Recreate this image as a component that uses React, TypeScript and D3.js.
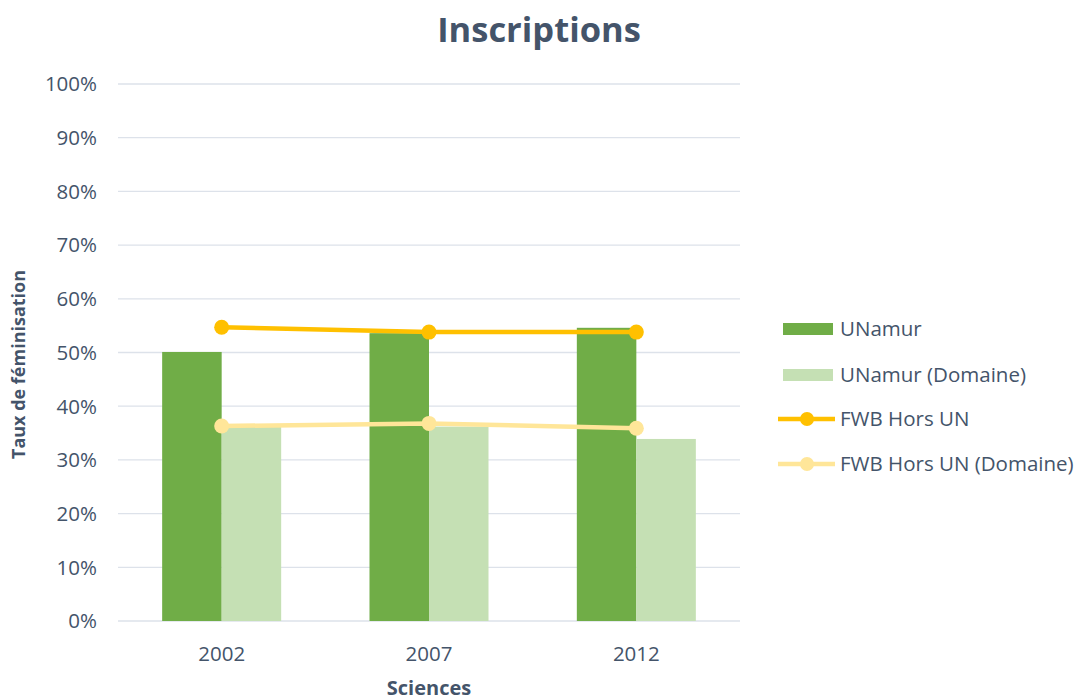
import React from 'react';
import * as d3 from 'd3';

// data
const years = ['2002', '2007', '2012'];
const unamur = [50.1, 53.6, 54.6];
const unamurDomaine = [36.2, 36.2, 33.9];
const fwb = [54.7, 53.8, 53.8];
const fwbDomaine = [36.3, 36.8, 35.9];
const yTicks = [0, 10, 20, 30, 40, 50, 60, 70, 80, 90, 100];

const textColor = '#44546A';
const font = '"Open Sans", sans-serif';

const barSeries = [
  { name: 'UNamur', values: unamur, color: '#70AD47' },
  { name: 'UNamur (Domaine)', values: unamurDomaine, color: '#C5E0B4' },
];
const lineSeries = [
  { name: 'FWB Hors UN', values: fwb, color: '#FFC000' },
  { name: 'FWB Hors UN (Domaine)', values: fwbDomaine, color: '#FFE699' },
];

export default function App() {
  const width = 1083;
  const height = 700;
  const plot = { left: 118, right: 740, top: 84, bottom: 621 };

  const x = d3.scaleBand<string>().domain(years).range([plot.left, plot.right]).paddingInner(0.426).paddingOuter(0.213);
  const xInner = d3.scaleBand<number>().domain([0, 1]).range([0, x.bandwidth()]);
  const y = d3.scaleLinear().domain([0, 100]).range([plot.bottom, plot.top]);

  const line = d3
    .line<number>()
    .x((_, i) => (x(years[i]) as number) + x.bandwidth() / 2)
    .y(d => y(d));

  const legendX = 783;
  const legendRows = [329, 375, 419, 464];

  return (
    <svg width={width} height={height} style={{ position: 'absolute', left: 0, top: 0, fontFamily: font }}>
      <rect width={width} height={height} fill="#fff" />
      <text x={539} y={42} textAnchor="middle" fontSize={34.5} fontWeight="bold" fill={textColor}>
        Inscriptions
      </text>

      {/* grid + y labels */}
      {yTicks.map(t => (
        <g key={t}>
          <line x1={plot.left} x2={plot.right} y1={y(t)} y2={y(t)} stroke="#DDE2EA" strokeWidth={1.3} />
          <text x={97} y={y(t)} dy="0.36em" textAnchor="end" fontSize={20.5} fill={textColor}>
            {t}%
          </text>
        </g>
      ))}

      {/* bars */}
      {barSeries.map((s, si) =>
        s.values.map((v, i) => (
          <rect
            key={s.name + i}
            x={(x(years[i]) as number) + (xInner(si) as number)}
            y={y(v)}
            width={xInner.bandwidth()}
            height={y(0) - y(v)}
            fill={s.color}
          />
        ))
      )}

      {/* lines */}
      {lineSeries.map(s => (
        <g key={s.name}>
          <path d={line(s.values) as string} fill="none" stroke={s.color} strokeWidth={4.5} />
          {s.values.map((v, i) => (
            <circle key={i} cx={(x(years[i]) as number) + x.bandwidth() / 2} cy={y(v)} r={7.5} fill={s.color} />
          ))}
        </g>
      ))}

      {/* x labels */}
      {years.map(yr => (
        <text key={yr} x={(x(yr) as number) + x.bandwidth() / 2} y={661} textAnchor="middle" fontSize={20.5} fill={textColor}>
          {yr}
        </text>
      ))}
      <text x={429} y={695} textAnchor="middle" fontSize={20} fontWeight="bold" fill={textColor}>
        Sciences
      </text>
      <text
        transform={`translate(25,${(plot.top + plot.bottom) / 2 + 12}) rotate(-90)`}
        textAnchor="middle"
        fontSize={18}
        fontWeight="bold"
        fill={textColor}
      >
        Taux de féminisation
      </text>

      {/* legend */}
      {barSeries.map((s, i) => (
        <g key={s.name}>
          <rect x={legendX} y={legendRows[i] - 6} width={50} height={12} fill={s.color} />
          <text x={840} y={legendRows[i]} dy="0.36em" fontSize={20.5} fill={textColor}>
            {s.name}
          </text>
        </g>
      ))}
      {lineSeries.map((s, i) => (
        <g key={s.name}>
          <line x1={778} x2={835} y1={legendRows[i + 2]} y2={legendRows[i + 2]} stroke={s.color} strokeWidth={4.5} />
          <circle cx={807} cy={legendRows[i + 2]} r={7} fill={s.color} />
          <text x={840} y={legendRows[i + 2]} dy="0.36em" fontSize={20.5} fill={textColor}>
            {s.name}
          </text>
        </g>
      ))}
    </svg>
  );
}
